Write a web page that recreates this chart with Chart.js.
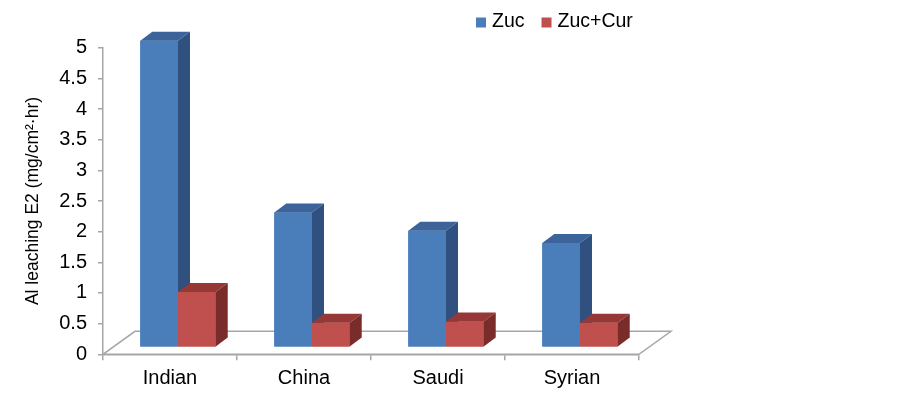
<!DOCTYPE html>
<html><head><meta charset="utf-8">
<script src="https://cdn.jsdelivr.net/npm/chart.js@4/dist/chart.umd.min.js"></script>
<style>html,body{margin:0;padding:0;background:#fff;overflow:hidden;}</style>
</head><body>
<canvas id="c" width="903" height="395"></canvas>
<script>
const categories = ['Indian', 'China', 'Saudi', 'Syrian'];
const zucValues = [5.0, 2.2, 1.9, 1.7];
const zucCurValues = [0.9, 0.4, 0.42, 0.4];
const seriesNames = ['Zuc', 'Zuc+Cur'];
const yTitle = 'Al leaching E2 (mg/cm²·hr)';
const yMin = 0, yMax = 5, yStep = 0.5;

const FRONT = ['#4a7ebb', '#c0504d'];
const TOP = ['#3c649b', '#963936'];
const SIDE = ['#30507f', '#7a2c2a'];
const SHIFT = {x: 8, y: -7};
const DEPTH = {x: 12, y: -9};
const FLOOR = {x: 32, y: -23};
const AXIS = '#a6a6a6';
const FONT = "'Liberation Sans', Arial, sans-serif";

Chart.defaults.font.family = FONT;

const bars3d = {
  id: 'bars3d',
  beforeDatasetsDraw(chart) {
    const {ctx, chartArea: a} = chart;
    ctx.save();
    ctx.beginPath();
    ctx.moveTo(a.left, a.bottom);
    ctx.lineTo(a.right, a.bottom);
    ctx.lineTo(a.right + FLOOR.x, a.bottom + FLOOR.y);
    ctx.lineTo(a.left + FLOOR.x, a.bottom + FLOOR.y);
    ctx.closePath();
    ctx.fillStyle = '#ffffff';
    ctx.fill();
    ctx.strokeStyle = AXIS;
    ctx.lineWidth = 1.5;
    ctx.stroke();
    ctx.restore();
    ctx.save();
    ctx.translate(SHIFT.x, SHIFT.y);
  },
  afterDatasetsDraw(chart) {
    const ctx = chart.ctx;
    const n = chart.data.labels.length;
    for (let j = 0; j < n; j++) {
      chart.data.datasets.forEach((ds, i) => {
        const meta = chart.getDatasetMeta(i);
        const el = meta.data[j];
        if (!el) return;
        el.draw(ctx, chart.chartArea);
        const {x, y, base, width} = el.getProps(['x', 'y', 'base', 'width'], true);
        const l = x - width / 2, r = x + width / 2;
        ctx.beginPath();
        ctx.moveTo(l, y); ctx.lineTo(r, y);
        ctx.lineTo(r + DEPTH.x, y + DEPTH.y); ctx.lineTo(l + DEPTH.x, y + DEPTH.y);
        ctx.closePath();
        ctx.fillStyle = TOP[i]; ctx.fill();
        ctx.beginPath();
        ctx.moveTo(r, y); ctx.lineTo(r, base);
        ctx.lineTo(r + DEPTH.x, base + DEPTH.y); ctx.lineTo(r + DEPTH.x, y + DEPTH.y);
        ctx.closePath();
        ctx.fillStyle = SIDE[i]; ctx.fill();
      });
    }
    ctx.restore();
  }
};

const legendPlugin = {
  id: 'customLegend',
  afterDraw(chart) {
    const ctx = chart.ctx;
    ctx.save();
    ctx.font = '19.5px ' + FONT;
    ctx.textBaseline = 'middle';
    ctx.textAlign = 'left';
    let x = 476;
    const cy = 22.5;
    chart.data.datasets.forEach((ds) => {
      ctx.fillStyle = ds.backgroundColor;
      ctx.fillRect(x, cy - 5, 10, 10);
      ctx.fillStyle = '#000';
      ctx.fillText(ds.label, x + 16, cy - 0.5);
      x += 16 + ctx.measureText(ds.label).width + 17;
    });
    ctx.restore();
  }
};

new Chart(document.getElementById('c'), {
  type: 'bar',
  data: {
    labels: categories,
    datasets: [
      {label: seriesNames[0], data: zucValues, backgroundColor: FRONT[0], clip: false,
       categoryPercentage: 0.563, barPercentage: 1.0},
      {label: seriesNames[1], data: zucCurValues, backgroundColor: FRONT[1], clip: false,
       categoryPercentage: 0.563, barPercentage: 1.0}
    ]
  },
  plugins: [bars3d, legendPlugin],
  options: {
    responsive: false,
    animation: false,
    layout: {padding: {left: 0, right: 264, top: 47.7, bottom: 0}},
    plugins: {legend: {display: false}, tooltip: {enabled: false}},
    scales: {
      x: {
        grid: {display: true, drawOnChartArea: false, drawTicks: true, tickLength: 6, color: AXIS, offset: true, lineWidth: 1.5},
        border: {display: true, color: AXIS, width: 1.5},
        ticks: {color: '#000', font: {size: 20}, padding: 6, maxRotation: 0},
        afterFit: s => { s.height = 40.7; }
      },
      y: {
        min: yMin, max: yMax,
        grid: {drawOnChartArea: false, drawTicks: true, tickLength: 5, color: AXIS, lineWidth: 1.5},
        border: {display: true, color: AXIS, width: 1.5},
        ticks: {stepSize: yStep, color: '#000', font: {size: 20}, padding: 11, callback: v => String(v)},
        title: {display: true, text: yTitle, color: '#000', font: {size: 17.5}, padding: {top: 23, bottom: 0}},
        afterFit: s => { s.width = 103; }
      }
    }
  }
});
</script>
</body></html>
